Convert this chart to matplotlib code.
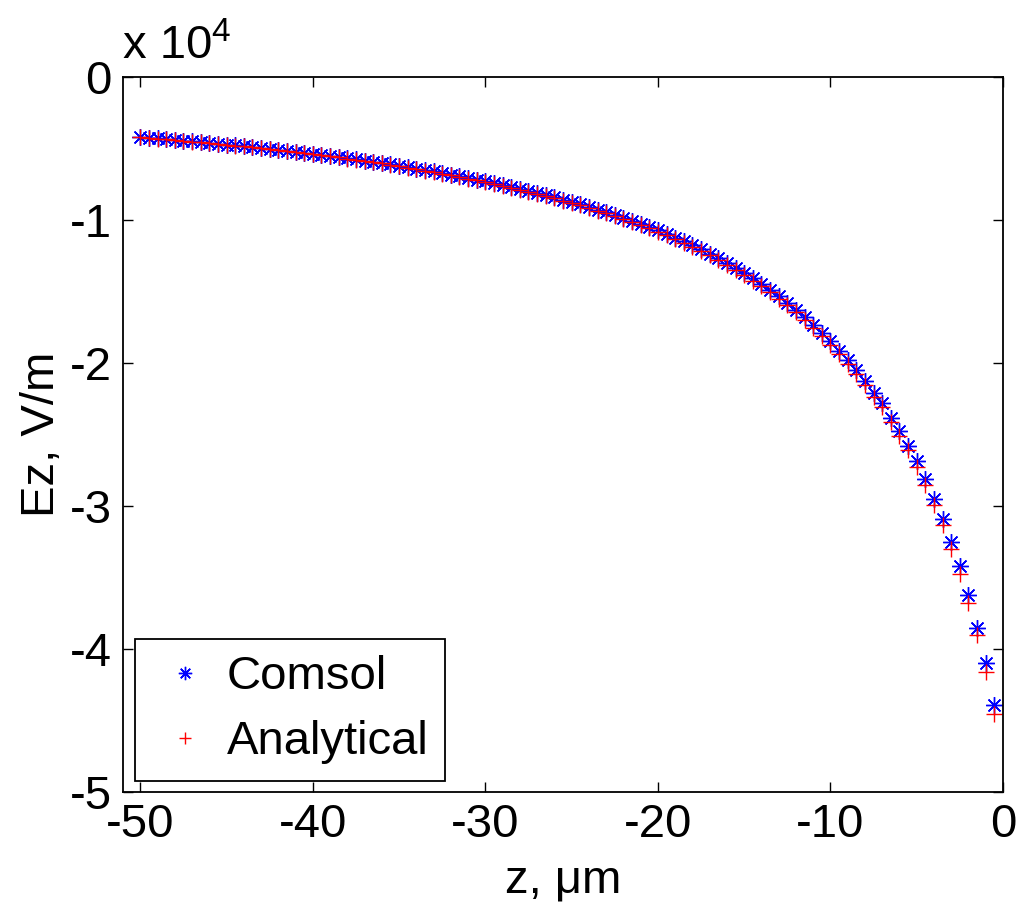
import matplotlib
matplotlib.use("Agg")
import matplotlib.pyplot as plt

plt.rcParams["font.family"] = ["Liberation Sans", "DejaVu Sans"]
plt.rcParams["axes.unicode_minus"] = False

# z positions (um)
z = [-50.0 + 0.5 * i for i in range(100)]

# Ez (V/m)
comsol = [
    -4200, -4250, -4300, -4350, -4400, -4450, -4500, -4555, -4610, -4665,
    -4725, -4780, -4840, -4905, -4965, -5030, -5095, -5160, -5230, -5300,
    -5375, -5450, -5525, -5600, -5680, -5760, -5845, -5930, -6020, -6110,
    -6205, -6300, -6400, -6500, -6605, -6715, -6825, -6935, -7050, -7170,
    -7295, -7420, -7550, -7685, -7825, -7970, -8115, -8265, -8420, -8580,
    -8745, -8915, -9090, -9270, -9460, -9655, -9855, -10065, -10280, -10500,
    -10730, -10975, -11225, -11490, -11765, -12050, -12350, -12665, -12995, -13340,
    -13700, -14080, -14475, -14890, -15325, -15785, -16270, -16780, -17320, -17890,
    -18490, -19130, -19800, -20510, -21270, -22070, -22800, -23820, -24770, -25780,
    -26860, -28100, -29500, -30900, -32500, -34200, -36200, -38500, -41000, -43900,
]
analytical = [
    -4210, -4260, -4310, -4360, -4410, -4460, -4515, -4570, -4625, -4680,
    -4740, -4795, -4855, -4920, -4985, -5050, -5115, -5180, -5250, -5320,
    -5395, -5470, -5545, -5625, -5705, -5785, -5870, -5960, -6050, -6140,
    -6235, -6335, -6435, -6540, -6645, -6755, -6870, -6985, -7100, -7220,
    -7345, -7475, -7605, -7740, -7885, -8030, -8180, -8330, -8485, -8650,
    -8815, -8985, -9165, -9345, -9535, -9735, -9940, -10150, -10370, -10595,
    -10830, -11075, -11330, -11600, -11880, -12170, -12475, -12795, -13130, -13480,
    -13850, -14235, -14640, -15060, -15505, -15970, -16465, -16985, -17535, -18110,
    -18720, -19370, -20050, -20770, -21540, -22350, -23090, -24120, -25080, -26100,
    -27260, -28500, -29950, -31350, -32980, -34720, -36780, -39050, -41600, -44550,
]

xticks = [-50, -40, -30, -20, -10, 0]
yticks = [0, -10000, -20000, -30000, -40000, -50000]
ytick_labels = ["0", "-1", "-2", "-3", "-4", "-5"]

fig = plt.figure(figsize=(10.19, 9.11), dpi=100)
ax = fig.add_axes([0.1207, 0.1306, 0.8636, 0.7849])

# MATLAB-style asterisk: 8 arms drawn as lines
ax.plot(z, comsol, linestyle="none", marker=(8, 2, 0), color="blue",
        markersize=12, markeredgewidth=1.0, label="Comsol")
ax.plot(z, analytical, linestyle="none", marker="+", color="red",
        markersize=11, markeredgewidth=1.0, label="Analytical")

ax.set_xlim(-51, 0)
ax.set_ylim(-50000, 0)
ax.set_xticks(xticks)
ax.set_xticklabels([str(t) for t in xticks])
ax.set_yticks(yticks)
ax.set_yticklabels(ytick_labels)
ax.tick_params(direction="in", length=7, width=1, labelsize=34, pad=8,
               top=True, right=True)
for s in ax.spines.values():
    s.set_linewidth(1.3)

ax.set_xlabel("z, \u03bcm", fontsize=34, labelpad=8)
ax.set_ylabel("Ez, V/m", fontsize=34, labelpad=4)

fig.text(0.121, 0.925, "x 10", fontsize=34, ha="left", va="bottom")
fig.text(0.207, 0.947, "4", fontsize=24, ha="left", va="bottom")

leg = ax.legend(loc="lower left", bbox_to_anchor=(0.0136, 0.0154),
                borderaxespad=0, fontsize=34, fancybox=False,
                edgecolor="black", framealpha=1, handlelength=1.4,
                handletextpad=0.2, borderpad=0.35, labelspacing=0.45,
                markerscale=0.8)
leg.get_frame().set_linewidth(1.3)

fig.savefig("out.png", dpi=100)
